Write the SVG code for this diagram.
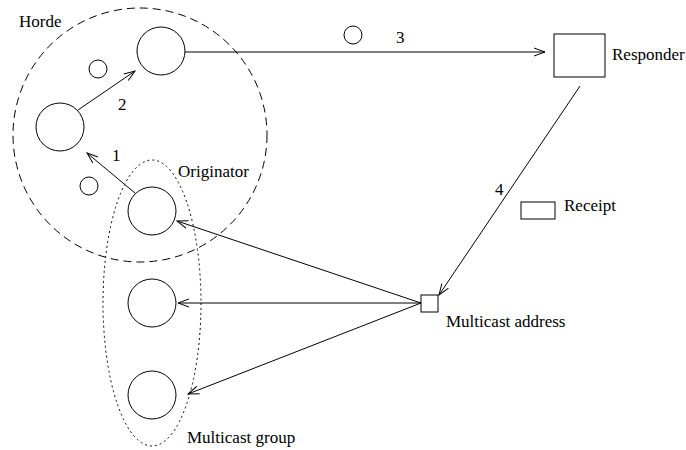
<svg xmlns="http://www.w3.org/2000/svg" width="686" height="450" viewBox="0 0 686 450">
<style>
.s{fill:none;stroke:#000;stroke-width:1}
.t{font-family:"Liberation Serif","Times New Roman",serif;font-size:17px;fill:#000}
.c{fill:none;stroke:#000;stroke-width:1;marker-end:url(#ah)}
</style>
<defs>
<marker id="ah" viewBox="0 0 12 10" refX="11" refY="5" markerWidth="12" markerHeight="10" markerUnits="userSpaceOnUse" orient="auto">
<path d="M0,1 L11,5 L0,9" fill="none" stroke="#000" stroke-width="1"/>
</marker>
</defs>
<rect width="686" height="450" fill="#fff"/>
<g id="horde">
<circle cx="140" cy="135" r="127" class="s" stroke-dasharray="8,5"/>
<text x="19" y="27" class="t">Horde</text>
</g>
<g id="multicast-group">
<ellipse cx="152" cy="303" rx="49" ry="143" class="s" stroke-dasharray="2,3"/>
<text x="187" y="443" class="t">Multicast group</text>
</g>
<g id="node-top"><circle cx="161" cy="51" r="24" class="s"/></g>
<g id="node-left"><circle cx="60" cy="127" r="24" class="s"/></g>
<g id="small-1"><circle cx="98" cy="69" r="9" class="s"/></g>
<g id="small-2"><circle cx="89" cy="186" r="9" class="s"/></g>
<g id="originator">
<circle cx="152" cy="211" r="24" class="s"/>
<text x="178" y="177" class="t">Originator</text>
</g>
<g id="member-2"><circle cx="152" cy="303" r="24" class="s"/></g>
<g id="member-3"><circle cx="152" cy="395" r="24" class="s"/></g>
<g id="msg-token"><circle cx="353" cy="35" r="9" class="s"/></g>
<g id="responder">
<rect x="554" y="34" width="51" height="43" class="s"/>
<text x="612" y="60" class="t">Responder</text>
</g>
<g id="receipt">
<rect x="521" y="202" width="34" height="17" class="s"/>
<text x="564" y="211" class="t">Receipt</text>
</g>
<g id="multicast-address">
<rect x="421" y="295" width="17" height="17" class="s"/>
<text x="446" y="327" class="t">Multicast address</text>
</g>
<g id="connectors">
<line x1="78" y1="110" x2="135" y2="71" class="c"/>
<text x="118" y="110" class="t">2</text>
<line x1="135" y1="193" x2="87" y2="153" class="c"/>
<text x="112" y="161" class="t">1</text>
<line x1="185" y1="52" x2="545" y2="52" class="c"/>
<text x="396" y="43" class="t">3</text>
<line x1="580" y1="86" x2="439" y2="295" class="c"/>
<text x="495" y="195" class="t">4</text>
<line x1="421" y1="303" x2="177" y2="221" class="c"/>
<line x1="421" y1="303" x2="178" y2="303" class="c"/>
<line x1="421" y1="303" x2="188" y2="394" class="c"/>
</g>
</svg>
